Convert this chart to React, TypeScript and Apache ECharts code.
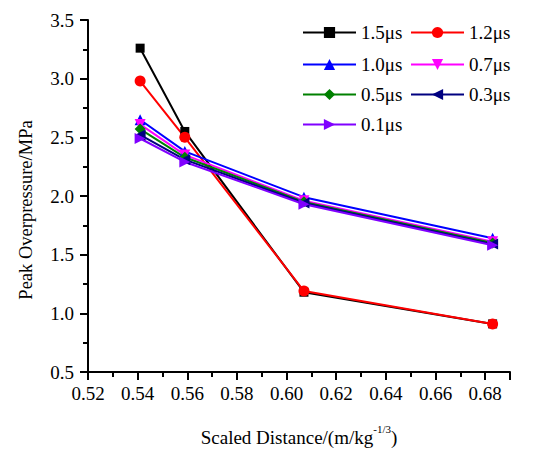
import React, { useEffect, useRef } from "react";
import * as echarts from "echarts";

const distances = [0.541, 0.559, 0.607, 0.683];
const seriesNames = ["1.5μs", "1.2μs", "1.0μs", "0.7μs", "0.5μs", "0.3μs", "0.1μs"];
const p15 = [3.26, 2.55, 1.18, 0.91];
const p12 = [2.98, 2.5, 1.19, 0.91];
const p10 = [2.65, 2.38, 1.99, 1.64];
const p07 = [2.61, 2.35, 1.96, 1.61];
const p05 = [2.57, 2.33, 1.95, 1.6];
const p03 = [2.52, 2.31, 1.94, 1.59];
const p01 = [2.49, 2.29, 1.93, 1.58];
const allValues = [p15, p12, p10, p07, p05, p03, p01];
const colors = ["#000000", "#ff0000", "#0000ff", "#ff00ff", "#008000", "#000080", "#8000ff"];
const symbols = ["rect", "circle", "triangle", "triangle", "diamond", "triangle", "triangle"];
const rotations = [0, 0, 0, 180, 0, 90, -90];
const sizes = [9, 11, 11, 11, 11, 11, 11];
const yAxisTitle = "Peak Overpressure/MPa";

const FONT = "'Liberation Serif', 'Times New Roman', serif";

export default function App() {
  const ref = useRef<HTMLDivElement>(null);
  useEffect(() => {
    if (!ref.current) return;
    const chart = echarts.init(ref.current, undefined, { renderer: "svg" });
    const legendPos = [
      [302, 23],
      [410, 23],
      [302, 55],
      [410, 55],
      [302, 85],
      [410, 85],
      [302, 115],
    ];
    const series = seriesNames.map((name, i) => ({
      name,
      type: "line",
      data: distances.map((d, j) => [d, allValues[i][j]]),
      symbol: symbols[i],
      symbolSize: sizes[i],
      symbolRotate: rotations[i],
      showAllSymbol: true,
      lineStyle: { color: colors[i], width: 2 },
      itemStyle: { color: colors[i] },
      emphasis: { disabled: true },
    }));
    const legends = seriesNames.map((name, i) => ({
      data: [name],
      left: legendPos[i][0],
      top: legendPos[i][1],
      padding: 0,
      itemWidth: 53,
      itemHeight: 14,
      itemGap: 5,
      selectedMode: false,
      textStyle: { fontFamily: FONT, fontSize: 19, color: "#000" },
    }));
    chart.setOption({
      animation: false,
      backgroundColor: "#ffffff",
      legend: legends,
      grid: {
        left: 88,
        right: 40,
        top: 20,
        bottom: 89,
        containLabel: false,
        outerBoundsMode: "none",
      },
      graphic: [
        {
          type: "text",
          x: 26,
          y: 210,
          rotation: Math.PI / 2,
          style: {
            text: yAxisTitle,
            fontFamily: FONT,
            fontSize: 18.5,
            fill: "#000",
            align: "center",
            verticalAlign: "middle",
          },
        },
      ],
      xAxis: {
        type: "value",
        min: 0.52,
        max: 0.69,
        interval: 0.02,
        name: "{a|Scaled Distance/(m/kg}{s|-1/3}{a|)}",
        nameLocation: "middle",
        nameGap: 51,
        nameTextStyle: {
          rich: {
            a: { fontFamily: FONT, fontSize: 19, color: "#000", verticalAlign: "bottom", lineHeight: 24 },
            s: { fontFamily: FONT, fontSize: 11, color: "#000", verticalAlign: "top", lineHeight: 24, padding: [0, 0, 12, 0] },
          },
        },
        axisLine: { show: true, lineStyle: { color: "#000", width: 2 } },
        axisTick: { show: true, inside: false, length: 8, lineStyle: { color: "#000", width: 2 } },
        minorTick: { show: true, splitNumber: 2, length: 5, lineStyle: { color: "#000", width: 2 } },
        splitLine: { show: false },
        axisLabel: {
          margin: 12,
          fontFamily: FONT,
          fontSize: 19,
          color: "#000",
          formatter: (v: number) => {
            const r = Math.round(v * 100) / 100;
            if (Math.abs(r - 0.69) < 1e-6) return "";
            return r.toFixed(2);
          },
        },
      },
      yAxis: {
        type: "value",
        min: 0.5,
        max: 3.5,
        interval: 0.5,
        axisLine: { show: true, lineStyle: { color: "#000", width: 2 } },
        axisTick: { show: true, inside: false, length: 8, lineStyle: { color: "#000", width: 2 } },
        minorTick: { show: true, splitNumber: 2, length: 5, lineStyle: { color: "#000", width: 2 } },
        splitLine: { show: false },
        axisLabel: {
          margin: 14,
          fontFamily: FONT,
          fontSize: 19,
          color: "#000",
          formatter: (v: number) => v.toFixed(1),
        },
      },
      series,
    });
    return () => chart.dispose();
  }, []);
  return <div ref={ref} style={{ width: 550, height: 461, position: "absolute", left: 0, top: 0 }} />;
}
